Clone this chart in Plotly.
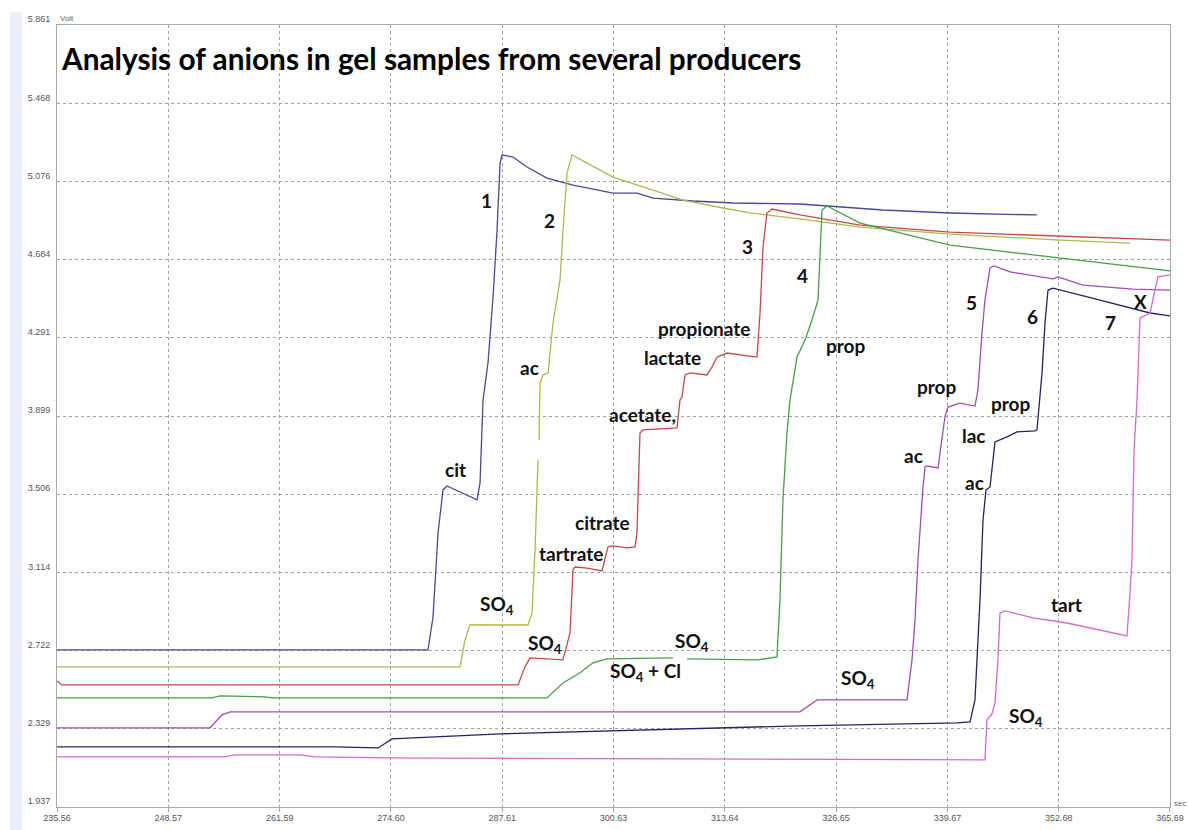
import plotly.graph_objects as go

# ---------------- data (time in sec, signal in Volt) ----------------
t1 = [235.56, 278.94, 279.52, 280.11, 280.69, 281.16, 284.67, 285.02, 285.37, 285.95, 286.54, 287.01, 287.36, 287.59,
      288.88, 290.51, 292.85, 295.89, 300.57, 303.37, 305.25, 309.92, 314.60, 322.43, 332.14, 339.97, 350.14]
v1 = [2.725, 2.725, 2.890, 3.312, 3.528, 3.548, 3.478, 3.563, 3.979, 4.165, 4.496, 4.832, 5.169, 5.209,
      5.199, 5.149, 5.093, 5.058, 5.018, 5.018, 4.993, 4.978, 4.968, 4.963, 4.933, 4.918, 4.908]

t2 = [235.56, 282.68, 283.26, 283.85, 290.63, 291.10, 291.45, 291.80, None, 291.92, 292.03, 292.38, 292.97, 293.55,
      294.37, 294.72, 295.19, 295.77, 297.53, 300.57, 305.25, 308.75, 313.43, 316.59, 322.43, 329.45, 339.97, 352.83, 361.02]
v2 = [2.640, 2.640, 2.775, 2.850, 2.850, 2.911, 3.227, 3.678, None, 3.779, 4.065, 4.105, 4.115, 4.366,
      4.581, 4.832, 5.118, 5.209, 5.169, 5.098, 5.033, 4.983, 4.943, 4.918, 4.888, 4.847, 4.812, 4.782, 4.767]

t3 = [235.56, 236.15, 289.46, 290.28, 290.86, 294.72, 295.54, 295.89, 296.12, 297.53, 299.28, 299.63, 299.98, 300.57,
      302.20, 303.14, 303.37, 303.72, 304.07, 308.05, 308.40, 308.63, 308.99, 309.57, 311.56, 312.14, 312.73, 313.90,
      317.40, 317.76, 318.11, 318.57, 319.16, 322.43, 329.45, 339.97, 352.83, 365.69]
v3 = [2.569, 2.549, 2.549, 2.640, 2.685, 2.675, 2.810, 3.126, 3.141, 3.136, 3.121, 3.177, 3.242, 3.247,
      3.237, 3.242, 3.312, 3.814, 3.829, 3.839, 3.979, 3.994, 4.105, 4.115, 4.105, 4.145, 4.195, 4.215,
      4.195, 4.416, 4.747, 4.918, 4.938, 4.908, 4.857, 4.822, 4.802, 4.782]

t4 = [235.56, 253.68, 254.62, 259.88, 260.70, 292.85, 294.72, 296.71, 298.23, 299.87, 307.58, None, 309.22, 317.52,
      319.74, 320.09, 320.44, 320.91, 321.26, 322.08, 323.02, 323.83, 324.54, 325.00, 325.59, 329.45, 339.97, 352.83, 365.69]
v4 = [2.484, 2.484, 2.494, 2.489, 2.484, 2.484, 2.559, 2.610, 2.660, 2.680, 2.685, None, 2.680, 2.675,
      2.690, 2.976, 3.478, 3.814, 3.979, 4.195, 4.280, 4.381, 4.481, 4.933, 4.953, 4.867, 4.757, 4.692, 4.627]

t5 = [235.56, 253.45, 254.85, 255.79, 322.43, 323.60, 324.42, 334.94, 335.53, 335.88, 336.23, 336.81, 337.05, 337.28,
      338.57, 338.80, 339.38, 339.73, 341.14, 342.89, 343.24, 343.71, 344.06, 344.65, 345.12, 346.99, 352.01, 352.60,
      355.52, 361.37, 365.69]
v5 = [2.334, 2.334, 2.399, 2.414, 2.414, 2.449, 2.474, 2.474, 2.675, 2.876, 3.177, 3.538, 3.643, 3.648,
      3.638, 3.713, 3.894, 3.944, 3.964, 3.949, 4.030, 4.316, 4.481, 4.642, 4.652, 4.622, 4.587, 4.597,
      4.556, 4.536, 4.531]

t6 = [235.56, 268.06, 273.09, 274.73, 287.36, 322.43, 340.79, 342.31, 342.89, 343.48, 343.83, 344.18, 344.65, 345.23,
      346.64, 347.80, 349.91, 350.14, 350.73, 351.08, 351.43, 352.01, 357.51, 363.36, 365.69]
v6 = [2.238, 2.238, 2.233, 2.278, 2.304, 2.344, 2.359, 2.364, 2.474, 2.976, 3.377, 3.528, 3.543, 3.769,
      3.794, 3.819, 3.824, 3.829, 4.115, 4.366, 4.531, 4.541, 4.481, 4.416, 4.401]

t7 = [235.56, 255.20, 256.37, 263.97, 265.73, 274.50, 344.06, 344.30, 344.88, 345.23, 345.58, 345.82, 346.40, 349.68,
      353.65, 360.66, 361.02, 361.25, 361.49, 361.84, 362.19, 363.36, 363.94, 364.29, 365.69]
v7 = [2.188, 2.188, 2.198, 2.198, 2.188, 2.183, 2.173, 2.374, 2.404, 2.459, 2.675, 2.911, 2.921, 2.886,
      2.860, 2.795, 3.011, 3.177, 3.728, 3.979, 4.391, 4.416, 4.531, 4.597, 4.607]

series_t = [t1, t2, t3, t4, t5, t6, t7]
series_v = [v1, v2, v3, v4, v5, v6, v7]
series_colors = ["#48489c", "#b3b64e", "#c44a4a", "#479f47", "#a04cb8", "#22226a", "#d468d6"]

x_ticks = [235.56, 248.57, 261.59, 274.60, 287.61, 300.63, 313.64, 326.65, 339.67, 352.68, 365.69]
y_ticks = [1.937, 2.329, 2.722, 3.114, 3.506, 3.899, 4.291, 4.684, 5.076, 5.468, 5.861]

label_text = ["1", "2", "3", "4", "5", "6", "7", "X", "cit", "ac", "SO<sub>4</sub>", "SO<sub>4</sub>",
              "tartrate", "citrate", "acetate,", "lactate", "propionate", "prop", "SO<sub>4</sub>",
              "SO<sub>4</sub> + Cl", "SO<sub>4</sub>", "prop", "prop", "lac", "ac", "ac", "tart", "SO<sub>4</sub>"]
label_t = [285.72, 293.09, 316.35, 322.78, 342.54, 349.56, 358.79, 362.30, 282.10, 290.75, 287.01, 292.62,
           295.66, 299.28, 303.96, 307.47, 311.21, 327.81, 309.81, 304.31, 329.21, 338.45, 347.10, 342.78,
           335.76, 342.78, 353.65, 348.85]
label_v = [4.983, 4.878, 4.752, 4.602, 4.471, 4.396, 4.366, 4.476, 3.628, 4.140, 2.951, 2.755,
           3.207, 3.362, 3.909, 4.195, 4.336, 4.255, 2.765, 2.615, 2.579, 4.045, 3.964, 3.799,
           3.703, 3.563, 2.951, 2.389]

title_text = "Analysis of anions in gel samples from several producers"

# ---------------- figure ----------------
fig = go.Figure()
for t, v, c in zip(series_t, series_v, series_colors):
    fig.add_trace(go.Scatter(x=t, y=v, mode="lines", line=dict(color=c, width=1.3),
                             connectgaps=False, showlegend=False, hoverinfo="skip"))

W, H = 1189, 830
ml, mr, mt, mb = 57, 19, 25, 23
pw, ph = W - ml - mr, H - mt - mb

def px(x):
    return (x - ml) / pw

def py(y):
    return 1 - (y - mt) / ph

annos = []
for txt, tx, vy in zip(label_text, label_t, label_v):
    annos.append(dict(x=tx, y=vy, xref="x", yref="y", text="<b>" + txt + "</b>", showarrow=False,
                      font=dict(family="Lato", size=19, color="#111111"), xanchor="center", yanchor="middle"))
annos.append(dict(x=px(59), y=py(58), xref="paper", yref="paper", text="<b>" + title_text + "</b>",
                  showarrow=False, xanchor="left", yanchor="middle",
                  font=dict(family="Lato", size=29.8, color="#000000")))
annos.append(dict(x=px(58), y=py(18), xref="paper", yref="paper", text="Volt", showarrow=False,
                  xanchor="left", yanchor="middle", font=dict(family="Liberation Sans", size=8, color="#666666")))
annos.append(dict(x=px(1172), y=py(803), xref="paper", yref="paper", text="sec", showarrow=False,
                  xanchor="left", yanchor="middle", font=dict(family="Liberation Sans", size=8, color="#666666")))

fig.update_layout(
    width=W, height=H,
    margin=dict(l=ml, r=mr, t=mt, b=mb, pad=0, autoexpand=False),
    paper_bgcolor="white", plot_bgcolor="white",
    annotations=annos,
    shapes=[dict(type="rect", xref="paper", yref="paper", x0=px(10), x1=px(22), y0=py(830), y1=py(12),
                 fillcolor="#e9eef9", line=dict(width=0), layer="below")],
)
fig.update_xaxes(range=[235.555, 365.695], tickvals=x_ticks, ticktext=[f"{v:.2f}" for v in x_ticks],
                 automargin=False,
                 showgrid=True, gridcolor="#a0a0a0", griddash="3px,3px", gridwidth=1,
                 showline=True, linecolor="#a8a8a8", linewidth=1, mirror=True,
                 ticks="outside", ticklen=4, tickcolor="#a8a8a8", ticklabelstandoff=-2,
                 tickfont=dict(family="Liberation Sans", size=9, color="#555555"), zeroline=False)
fig.update_yaxes(range=[1.9365, 5.8615], tickvals=y_ticks, ticktext=[f"{v:.3f}" for v in y_ticks],
                 automargin=False,
                 showgrid=True, gridcolor="#a0a0a0", griddash="3px,3px", gridwidth=1,
                 showline=True, linecolor="#a8a8a8", linewidth=1, mirror=True,
                 ticks="", ticklabelshift=-6, ticklabelstandoff=4,
                 tickfont=dict(family="Liberation Sans", size=9, color="#555555"), zeroline=False)

fig.write_html("out.html", config={"displayModeBar": False},
               post_script="document.body.style.margin='0';document.body.style.overflow='hidden';")
